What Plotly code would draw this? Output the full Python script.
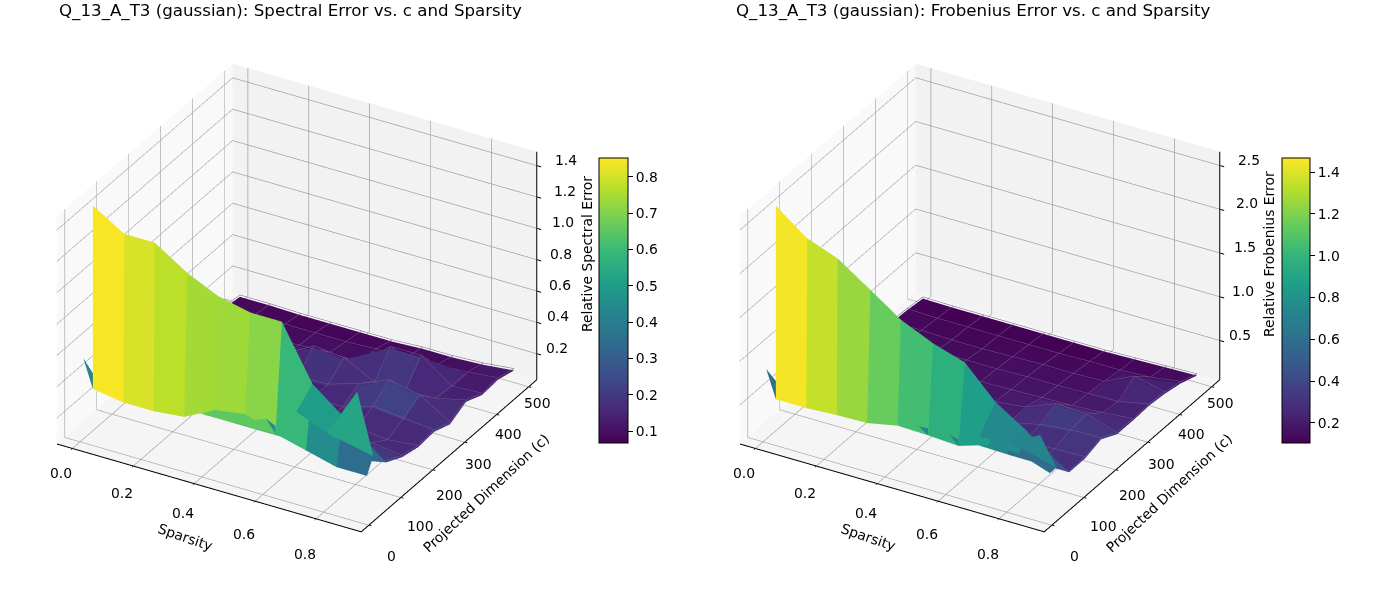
import plotly.graph_objects as go

sparsity = [0.0, 0.1, 0.2, 0.3, 0.4, 0.5, 0.6, 0.7, 0.8, 0.9]
dims = [100, 150, 200, 250, 300, 350, 400, 450, 500]
first_dim = 10
wall_dim = 40
wall_top_shift = [0, 3, 3, 10, 10, 16, 20, 20, 20, 20]

spectral_front = [0.55, 0.3, 0.3, 0.26, 0.41, 0.42, 0.5, 0.6, 0.52, 0.84]
spectral_low = [0.30, 0.27, 0.27, 0.29, 0.39, 0.42, 0.35, 0.30, 0.25, 0.25]
spectral_high = [1.47, 1.34, 1.34, 1.19, 1.10, 1.04, 1.03, 0.69, 0.54, 0.34]
spectral_grid = [
    [0.20, 0.20, 0.20, 0.20, 0.20, 0.20, 0.20, 0.19, 0.19, 0.23],
    [0.16, 0.16, 0.16, 0.16, 0.17, 0.17, 0.18, 0.17, 0.20, 0.175],
    [0.14, 0.14, 0.14, 0.15, 0.15, 0.15, 0.14, 0.15, 0.13, 0.15],
    [0.13, 0.13, 0.13, 0.13, 0.14, 0.14, 0.14, 0.20, 0.18, 0.16],
    [0.12, 0.12, 0.13, 0.13, 0.13, 0.14, 0.20, 0.28, 0.24, 0.12],
    [0.11, 0.12, 0.12, 0.13, 0.24, 0.22, 0.12, 0.12, 0.13, 0.175],
    [0.09, 0.09, 0.09, 0.10, 0.11, 0.10, 0.26, 0.26, 0.12, 0.13],
    [0.09, 0.09, 0.09, 0.09, 0.09, 0.10, 0.10, 0.11, 0.12, 0.14],
    [0.075, 0.075, 0.07, 0.07, 0.07, 0.07, 0.08, 0.08, 0.09, 0.11],
]
spectral_links = {4: ("low", 0.65), 5: ("low", 0.65), 7: ("high", 0.50), 8: ("high", 0.53)}
spectral_spikes = {0: (0.40, 0.42), 6: (0.40, 0.45)}

frobenius_front = [0.85, 0.4, 0.4, 0.4, 0.5, 0.70, 0.71, 0.78, 0.82, 1.0]
frobenius_low = [0.41, 0.41, 0.43, 0.44, 0.51, 0.50, 0.48, 0.59, 0.59, 0.47]
frobenius_high = [2.62, 2.34, 2.21, 1.93, 1.69, 1.50, 1.37, 1.02, 0.80, 0.47]
frobenius_grid = [
    [0.30, 0.30, 0.30, 0.30, 0.30, 0.30, 0.30, 0.29, 0.29, 0.29],
    [0.24, 0.24, 0.24, 0.23, 0.23, 0.24, 0.25, 0.26, 0.28, 0.29],
    [0.20, 0.20, 0.20, 0.20, 0.20, 0.21, 0.22, 0.30, 0.34, 0.35],
    [0.19, 0.19, 0.18, 0.19, 0.19, 0.20, 0.24, 0.38, 0.36, 0.25],
    [0.17, 0.17, 0.17, 0.17, 0.17, 0.18, 0.19, 0.20, 0.22, 0.25],
    [0.16, 0.16, 0.16, 0.16, 0.16, 0.17, 0.17, 0.18, 0.19, 0.26],
    [0.14, 0.14, 0.13, 0.13, 0.14, 0.15, 0.15, 0.16, 0.32, 0.24],
    [0.13, 0.12, 0.12, 0.12, 0.12, 0.12, 0.13, 0.13, 0.15, 0.20],
    [0.105, 0.10, 0.10, 0.10, 0.10, 0.10, 0.10, 0.11, 0.12, 0.13],
]
frobenius_links = {7: ("high", 0.74), 8: ("high", 0.72)}
frobenius_spikes = {0: (0.62, 0.62), 5: (0.58, 0.72), 6: (0.55, 0.70)}

spectral_ticks = [0.2, 0.4, 0.6, 0.8, 1.0, 1.2, 1.4]
frobenius_ticks = [0.5, 1.0, 1.5, 2.0, 2.5]
spectral_bar_ticks = [0.1, 0.2, 0.3, 0.4, 0.5, 0.6, 0.7, 0.8]
frobenius_bar_ticks = [0.2, 0.4, 0.6, 0.8, 1.0, 1.2, 1.4]
sparsity_ticks = [0.0, 0.2, 0.4, 0.6, 0.8]
dim_ticks = [0, 100, 200, 300, 400, 500]
x_range = [-0.05, 0.95]
y_range = [-25, 525]
spectral_range = [0.033, 1.49]
frobenius_range = [0.05, 2.66]

FONT = "DejaVu Sans"
TICK = 13.9
N = len(sparsity)
TICK_FONT = dict(family=FONT, size=TICK, color="black")


def build_mesh(front, low, high, grid, links, spikes):
    xs, ys, zs = [], [], []
    def add(x, y, z):
        xs.append(x); ys.append(y); zs.append(z)
        return len(xs) - 1
    front_id = [add(sparsity[i], first_dim, front[i]) for i in range(N)]
    low_id = [add(sparsity[i], wall_dim, low[i]) for i in range(N)]
    high_id = [add(sparsity[i], wall_dim + wall_top_shift[i], high[i]) for i in range(N)]
    rows = [high_id]
    for d, vals in zip(dims, grid):
        rows.append([add(sparsity[i], d, vals[i]) for i in range(N)])
    I, J, K, C = [], [], [], []
    def quad(a, b, c, d, value):
        I.extend([a, a]); J.extend([b, c]); K.extend([c, d]); C.extend([value, value])
    for i in range(N - 1):
        value = (low[i] + low[i + 1] + high[i] + high[i + 1]) / 4
        quad(low_id[i], low_id[i + 1], high_id[i + 1], high_id[i], value)
    for r in range(len(rows) - 1):
        for i in range(N - 1):
            a, b, c, d = rows[r][i], rows[r][i + 1], rows[r + 1][i + 1], rows[r + 1][i]
            quad(a, b, c, d, (zs[a] + zs[b] + zs[c] + zs[d]) / 4)
    for col, (target, value) in links.items():
        other = low_id if target == "low" else high_id
        quad(front_id[col], front_id[col + 1], other[col + 1], other[col], value)
    for col, (edge_z, value) in spikes.items():
        e = add(sparsity[col], wall_dim, edge_z)
        I.append(front_id[col]); J.append(low_id[col]); K.append(e); C.append(value)
    return xs, ys, zs, I, J, K, C


def surface(data, scene, cmin, cmax, bar_x, thick, bar_ticks):
    xs, ys, zs, I, J, K, C = data
    return go.Mesh3d(
        x=xs, y=ys, z=zs, i=I, j=J, k=K, intensity=C, intensitymode="cell",
        colorscale="Viridis", cmin=cmin, cmax=cmax, flatshading=True,
        lighting=dict(ambient=1, diffuse=0, specular=0, roughness=1, fresnel=0),
        hoverinfo="skip", scene=scene,
        colorbar=dict(
            x=bar_x / 1400, xanchor="left", y=1 - 158 / 600, yanchor="top",
            lenmode="pixels", len=285, thicknessmode="pixels", thickness=thick,
            xpad=0, ypad=0, outlinecolor="black", outlinewidth=1,
            ticks="outside", ticklen=5, tickcolor="black", tickwidth=1,
            tickmode="array", tickvals=bar_ticks, ticktext=[f"{v:.1f}" for v in bar_ticks],
            tickfont=TICK_FONT,
        ),
    )


def box_edges(scene, zrange):
    right = x_range[1] - 0.001
    near = y_range[0] + 0.5
    far = y_range[1] - 0.5
    low = zrange[0] + 0.001 * (zrange[1] - zrange[0])
    xs = [x_range[0], right, right, None, right, right]
    ys = [near, near, far, None, far, far]
    zs = [low, low, low, None, low, zrange[1]]
    return go.Scatter3d(
        x=xs, y=ys, z=zs, mode="lines", line=dict(color="black", width=2),
        hoverinfo="skip", showlegend=False, scene=scene,
    )


def seams(scene, grid, lift):
    xs, ys, zs = [], [], []
    for d, vals in zip(dims, grid):
        xs += sparsity + [None]
        ys += [d] * N + [None]
        zs += [v + lift for v in vals] + [None]
    for i in range(N):
        xs += [sparsity[i]] * len(dims) + [None]
        ys += dims + [None]
        zs += [row[i] + lift for row in grid] + [None]
    return go.Scatter3d(
        x=xs, y=ys, z=zs, mode="lines",
        line=dict(color="rgb(112,88,142)", width=1),
        hoverinfo="skip", showlegend=False, scene=scene,
    )


def axis(vals, rng, bg):
    return dict(
        range=rng, autorange=False, tickmode="array", tickvals=vals, title=dict(text=""),
        showticklabels=False,
        showbackground=True, backgroundcolor=bg, gridcolor="#a0a0a0", gridwidth=1.5,
        showgrid=True, zeroline=False, showline=False, ticks="", showspikes=False,
    )


def tick_mark(x, y, z, ax, ay):
    return dict(x=x, y=y, z=z, text=" ", showarrow=True, arrowhead=0, arrowwidth=1,
                arrowcolor="black", ax=ax, ay=ay, standoff=0, startstandoff=0)


def scene_layout(left, zticks, zrange):
    notes = []
    for v in zticks:
        frac = (v - zrange[0]) / (zrange[1] - zrange[0])
        notes.append(tick_mark(x_range[1], y_range[1], v, 7, 2))
        notes.append(dict(x=x_range[1], y=y_range[1], z=v, text=f"{v:.1f}", showarrow=False,
                          xshift=26 - 8 + 12 * frac, yshift=-1 + 7, font=TICK_FONT))
    for v in sparsity_ticks:
        notes.append(tick_mark(v, y_range[0], zrange[0], -4, 3))
        notes.append(dict(x=v, y=y_range[0], z=zrange[0], text=f"{v:.1f}", showarrow=False,
                          xshift=-11, yshift=-(27 - 3 + 13.75 * v), font=TICK_FONT))
    for v in dim_ticks:
        notes.append(tick_mark(x_range[1], v, zrange[0], 5, 1))
        notes.append(dict(x=x_range[1], y=v, z=zrange[0], text=f"{v:d}", showarrow=False,
                          xshift=22 - 0.028 * v, yshift=-(31 - 0.03 * v), font=TICK_FONT))
    k = 1.86
    s = 1.18
    return dict(
        domain=dict(x=[left / 1400, (left + 594) / 1400], y=[1 - 596 / 600, 1]),
        aspectmode="manual", aspectratio=dict(x=s, y=s, z=0.75 * s),
        camera=dict(eye=dict(x=0.433 * k, y=-0.75 * k, z=0.5 * k),
                    center=dict(x=0, y=0, z=0), up=dict(x=0, y=0, z=1),
                    projection=dict(type="orthographic")),
        xaxis=axis(sparsity_ticks, x_range, "rgb(249,249,249)"),
        yaxis=axis(dim_ticks, y_range, "rgb(242,242,242)"),
        zaxis=axis(zticks, zrange, "rgb(245,245,245)"),
        annotations=notes,
    )


def note(text, x, y, angle=0, size=TICK, anchor="center"):
    return dict(text=text, x=x / 1400, y=1 - y / 600, xref="paper", yref="paper",
                xanchor=anchor, yanchor="middle", showarrow=False, textangle=angle,
                font=dict(family=FONT, size=size, color="black"))


fig = go.Figure()
fig.add_trace(surface(build_mesh(spectral_front, spectral_low, spectral_high, spectral_grid,
                                 spectral_links, spectral_spikes),
                      "scene", 0.067, 0.852, 599, 29, spectral_bar_ticks))
fig.add_trace(box_edges("scene", spectral_range))
fig.add_trace(seams("scene", spectral_grid, 0.012))
fig.add_trace(surface(build_mesh(frobenius_front, frobenius_low, frobenius_high, frobenius_grid,
                                 frobenius_links, frobenius_spikes),
                      "scene2", 0.104, 1.467, 1282, 28, frobenius_bar_ticks))
fig.add_trace(box_edges("scene2", frobenius_range))
fig.add_trace(seams("scene2", frobenius_grid, 0.02))
fig.update_layout(
    width=1400, height=600, paper_bgcolor="white", showlegend=False,
    margin=dict(l=0, r=0, t=0, b=0, autoexpand=False),
    scene=scene_layout(0, spectral_ticks, spectral_range),
    scene2=scene_layout(683, frobenius_ticks, frobenius_range),
    annotations=[
        note("Q_13_A_T3 (gaussian): Spectral Error vs. c and Sparsity", 57, 11, size=16.67, anchor="left"),
        note("Q_13_A_T3 (gaussian): Frobenius Error vs. c and Sparsity", 734, 11, size=16.67, anchor="left"),
        note("Sparsity", 185, 537, 19),
        note("Sparsity", 868, 537, 19),
        note("Projected Dimension (c)", 486, 493, -43),
        note("Projected Dimension (c)", 1169, 493, -43),
        note("Relative Spectral Error", 587, 254, -90),
        note("Relative Frobenius Error", 1269, 254, -90),
    ],
)
fig.write_html("out.html", post_script="document.body.style.margin='0';",
               config={"displayModeBar": False})
